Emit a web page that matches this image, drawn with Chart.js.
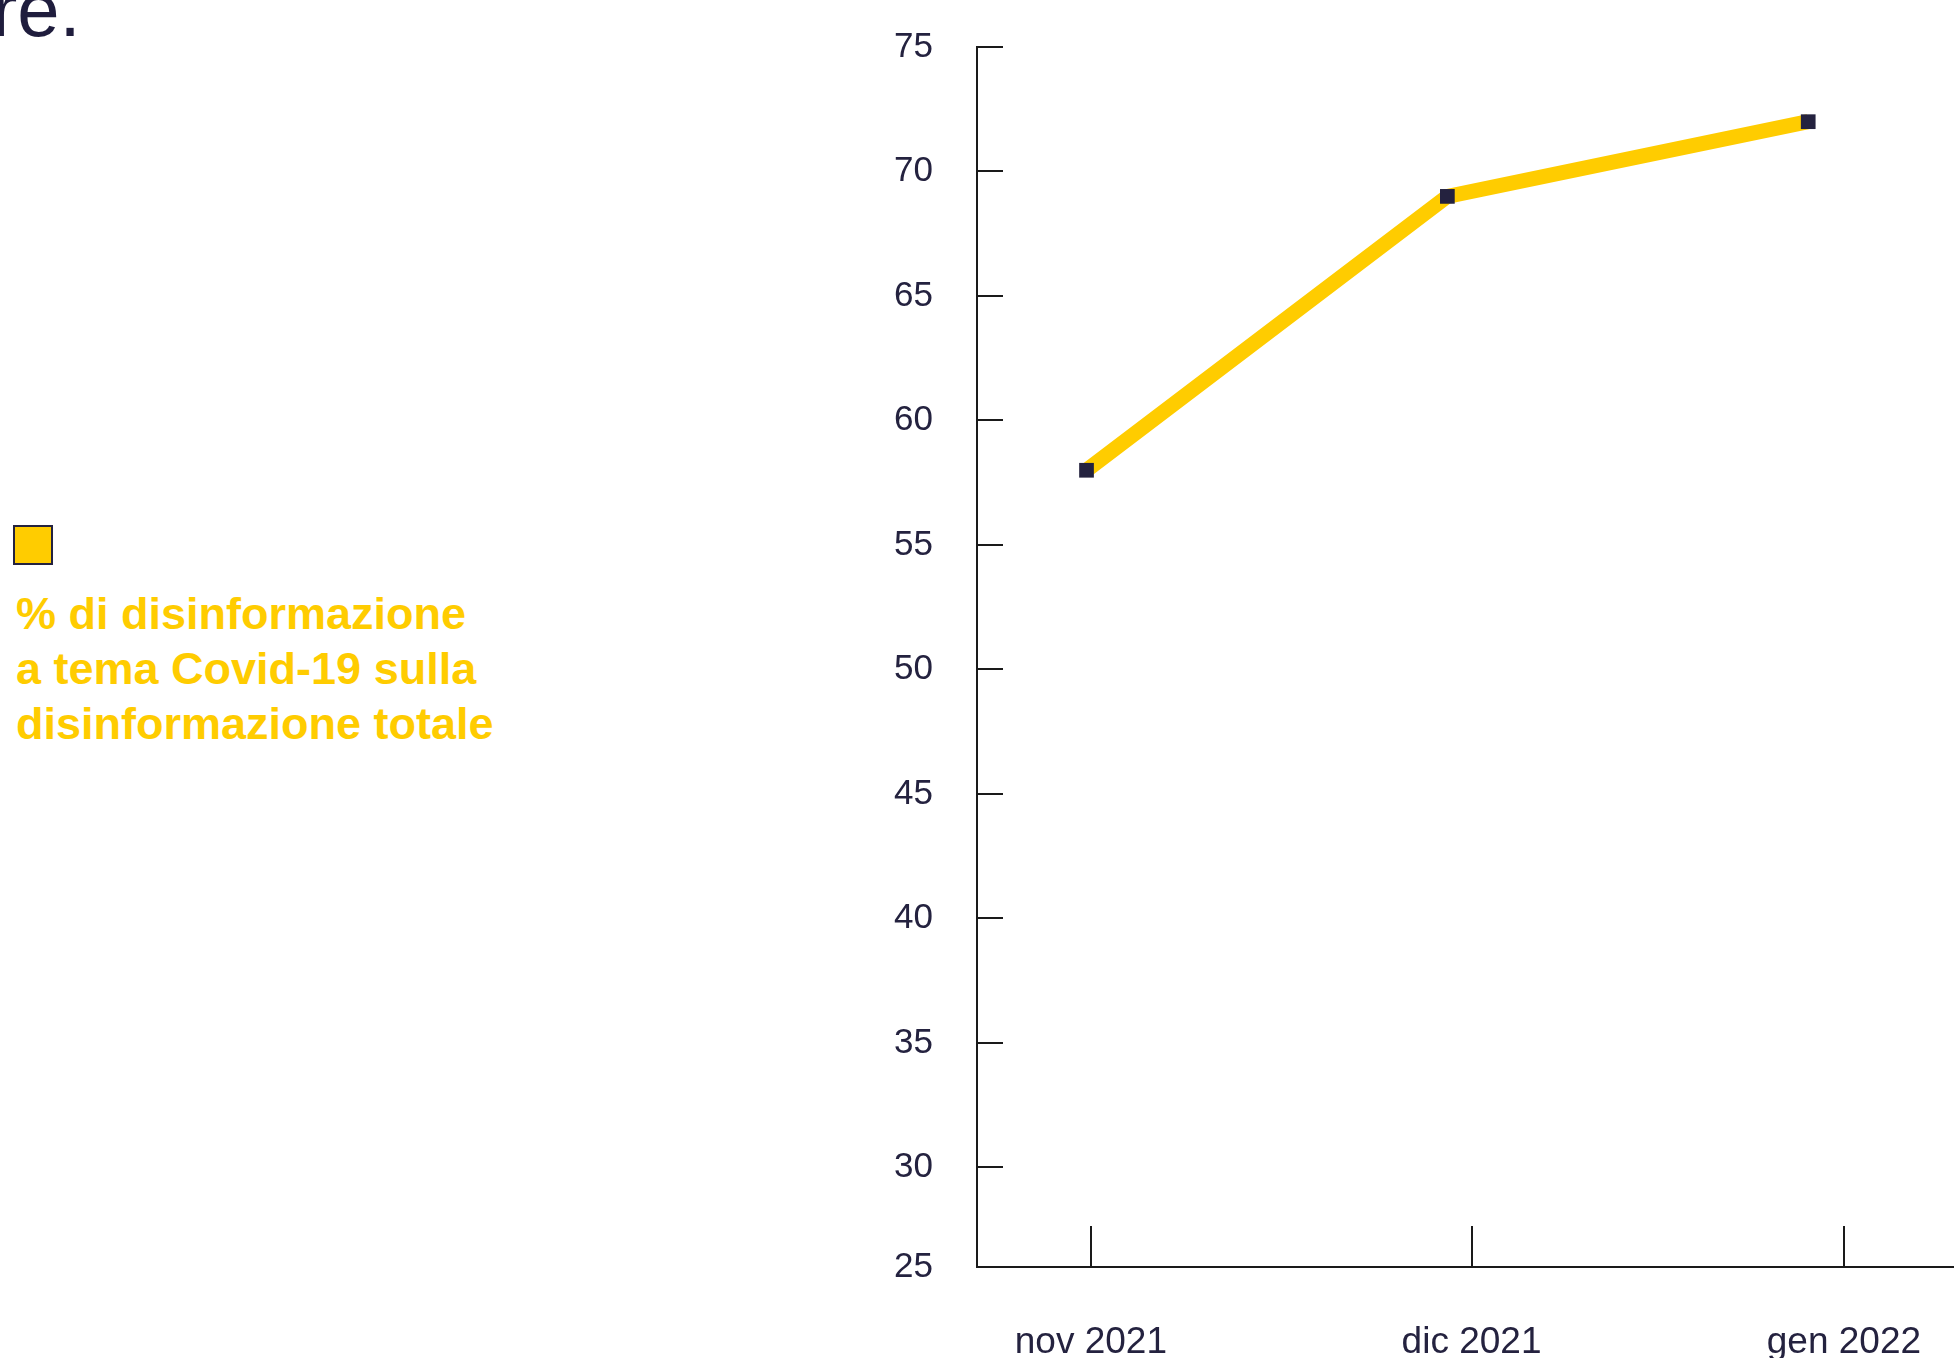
<!DOCTYPE html>
<html lang="it">
<head>
  <meta charset="UTF-8">
  <title>Disinformazione Covid-19</title>
  <script src="https://cdn.jsdelivr.net/npm/chart.js"></script>
  <style>
    html, body {
      margin: 0;
      padding: 0;
      background: #fff;
      width: 1954px;
      height: 1358px;
      overflow: hidden;
      position: relative;
      font-family: "Liberation Sans", Arial, sans-serif;
    }
    .headline {
      position: absolute;
      left: -8px;
      top: -28px;
      font-size: 76px;
      line-height: 76px;
      color: #1f1d3d;
      white-space: nowrap;
    }
    .legend-box {
      position: absolute;
      left: 13px;
      top: 525px;
      width: 36px;
      height: 36px;
      background: #ffcc00;
      border: 2px solid #24223f;
    }
    .legend-text {
      position: absolute;
      left: 16px;
      top: 586px;
      font-size: 45px;
      line-height: 55px;
      font-weight: bold;
      color: #ffcc00;
      white-space: nowrap;
    }
    .chart-wrap {
      position: absolute;
      left: 860px;
      top: 0;
      width: 1094px;
      height: 1358px;
    }
  </style>
</head>
<body>
  <div class="headline">re.</div>

  <div class="legend-box"></div>
  <div class="legend-text">% di disinformazione<br>a tema Covid-19 sulla<br>disinformazione totale</div>

  <div class="chart-wrap">
    <canvas id="covidChart"></canvas>
  </div>

  <script>
    // dati
    const months = ['nov 2021', 'dic 2021', 'gen 2022'];
    const covidShare = [58, 69, 72];

    // tacche dell'asse x (in unità dei dati, le tacche non cadono esattamente sui punti)
    const xTickPos = [0.012, 1.067, 2.099];

    // asse y: parte da 26, la prima etichetta in basso è "25"
    const yMin = 26;
    const yMax = 75;
    const yTicks = [26, 30, 35, 40, 45, 50, 55, 60, 65, 70, 75];
    const yTickLabels = ['25', '30', '35', '40', '45', '50', '55', '60', '65', '70', '75'];

    const navy = '#24223f';
    const axisColor = '#1a1a1a';
    const yellow = '#ffcc00';

    // tacche disegnate verso l'interno dell'area del grafico
    const innerTicks = {
      id: 'innerTicks',
      afterDraw(chart) {
        const ctx = chart.ctx;
        const area = chart.chartArea;
        const x = chart.scales.x;
        const y = chart.scales.y;
        ctx.save();
        ctx.strokeStyle = axisColor;
        ctx.lineWidth = 2;
        ctx.beginPath();
        y.ticks.forEach((t) => {
          const py = Math.round(y.getPixelForValue(t.value));
          ctx.moveTo(area.left, py);
          ctx.lineTo(area.left + 26, py);
        });
        x.ticks.forEach((t) => {
          const px = Math.round(x.getPixelForValue(t.value));
          ctx.moveTo(px, area.bottom);
          ctx.lineTo(px, area.bottom - 41);
        });
        ctx.stroke();
        ctx.restore();
      }
    };

    new Chart(document.getElementById('covidChart'), {
      type: 'line',
      data: {
        datasets: [{
          label: '% di disinformazione a tema Covid-19 sulla disinformazione totale',
          data: covidShare.map((v, i) => ({ x: i, y: v })),
          borderColor: yellow,
          borderWidth: 15,
          tension: 0,
          pointStyle: 'rect',
          pointRadius: 10.4,
          pointBorderWidth: 0,
          pointBackgroundColor: navy,
          pointBorderColor: navy,
        }],
      },
      options: {
        responsive: true,
        maintainAspectRatio: false,
        animation: false,
        layout: { autoPadding: false, padding: { top: 47, left: 0, right: 0, bottom: 0 } },
        plugins: {
          legend: { display: false },
          tooltip: { enabled: false },
        },
        scales: {
          x: {
            type: 'linear',
            min: -0.3035,
            max: 2.404,
            grid: { display: false },
            border: { display: true, color: axisColor, width: 2 },
            afterBuildTicks: (s) => { s.ticks = xTickPos.map((v) => ({ value: v })); },
            afterFit: (s) => {
              s.height = 91;
              s.paddingLeft = 0;
              s.paddingRight = 0;
            },
            ticks: {
              padding: 46,
              maxRotation: 0,
              color: navy,
              font: { family: 'Liberation Sans', size: 37 },
              callback: (value, index) => months[index],
            },
          },
          y: {
            min: yMin,
            max: yMax,
            grid: { display: false },
            border: { display: true, color: axisColor, width: 2 },
            afterBuildTicks: (s) => { s.ticks = yTicks.map((v) => ({ value: v })); },
            afterFit: (s) => {
              s.width = 117;
              s.paddingTop = 0;
              s.paddingBottom = 0;
            },
            ticks: {
              padding: 36,
              color: navy,
              font: { family: 'Liberation Sans', size: 35 },
              callback: (value, index) => yTickLabels[index],
            },
          },
        },
      },
      plugins: [innerTicks],
    });
  </script>
</body>
</html>
